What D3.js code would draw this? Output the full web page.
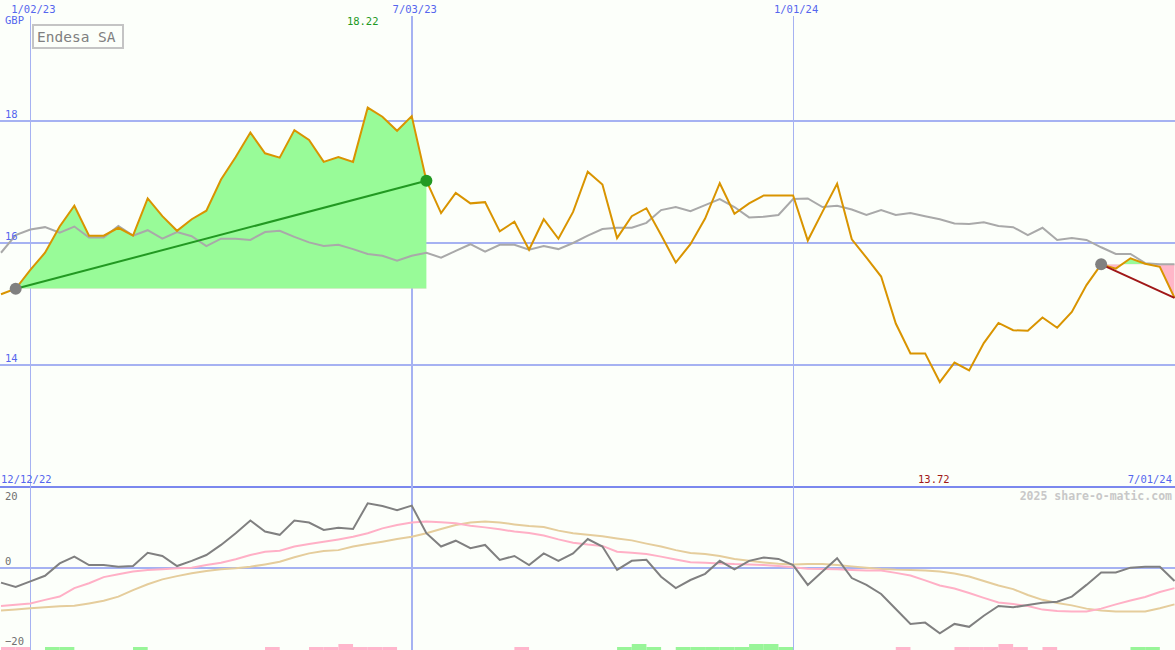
<!DOCTYPE html>
<html>
<head>
<meta charset="utf-8">
<script src="https://cdn.jsdelivr.net/npm/d3@7"></script>
<style>
  body { margin: 0; background: #fcfffa; }
  svg { display: block; }
  text { font-family: "DejaVu Sans Mono", monospace; }
</style>
</head>
<body>
<div id="chart"></div>
<script>
// weekly closes, Endesa SA (GBP), from 19 Dec 2022
var startDate = Date.UTC(2022, 11, 19);
var endDate = Date.UTC(2024, 6, 1);

var price = [15.16,15.25,15.56,15.84,16.27,16.61,16.12,16.12,16.25,16.12,
  16.73,16.44,16.20,16.39,16.53,17.04,17.41,17.81,17.47,17.40,
  17.85,17.69,17.33,17.41,17.33,18.22,18.07,17.84,18.08,17.02,
  16.49,16.82,16.65,16.67,16.19,16.35,15.89,16.39,16.07,16.51,
  17.17,16.96,16.08,16.44,16.57,16.13,15.68,15.98,16.40,16.98,
  16.48,16.65,16.78,16.78,16.78,16.04,16.51,16.97,16.06,15.76,
  15.45,14.68,14.19,14.19,13.72,14.04,13.91,14.36,14.69,14.57,
  14.56,14.78,14.61,14.87,15.31,15.65,15.58,15.75,15.66,15.61,
  15.10];

var movingAvg = [15.84,16.13,16.22,16.26,16.17,16.27,16.09,16.09,16.28,16.12,
  16.21,16.07,16.18,16.11,15.95,16.07,16.07,16.05,16.18,16.20,
  16.10,16.01,15.95,15.97,15.90,15.82,15.79,15.71,15.79,15.84,
  15.76,15.87,15.98,15.86,15.97,15.97,15.89,15.95,15.90,16.00,
  16.12,16.23,16.25,16.25,16.33,16.54,16.59,16.52,16.62,16.72,
  16.59,16.42,16.43,16.46,16.72,16.73,16.59,16.61,16.55,16.46,
  16.54,16.46,16.49,16.44,16.39,16.32,16.31,16.34,16.28,16.26,
  16.13,16.25,16.05,16.08,16.05,15.93,15.82,15.82,15.67,15.65,
  15.65];

// lower panel
var oscillator = [-4.5,-5.8,-4.1,-2.4,1.4,3.5,0.9,0.9,0.4,0.6,
  4.7,3.7,0.6,2.2,4.0,7.1,10.7,14.6,11.2,10.2,
  14.6,14.0,11.7,12.4,12.0,19.9,19.1,17.8,19.2,10.7,
  6.6,8.4,6.1,7.1,2.5,3.7,0.9,4.5,2.2,4.5,
  8.9,6.6,-0.6,2.2,2.5,-2.7,-6.2,-3.7,-1.8,2.2,
  -0.4,2.2,3.2,2.8,0.9,-5.2,-1.1,3.0,-3.1,-5.2,
  -8.0,-12.6,-17.2,-16.8,-20.1,-17.2,-18.1,-14.7,-11.7,-12.1,
  -11.4,-10.7,-10.4,-8.8,-5.2,-1.4,-1.4,0.1,0.4,0.4,
  -4.0];

var oscFast = [-11.7,-11.3,-10.9,-9.8,-8.8,-6.2,-4.7,-2.8,-1.9,-1.1,
  -0.6,-0.4,-0.1,0.1,0.9,1.6,2.7,4.0,5.0,5.3,
  6.6,7.4,8.1,8.8,9.6,10.7,12.2,13.2,14.0,14.3,
  14.1,13.8,13.0,12.5,11.9,11.2,10.8,10.0,8.8,7.8,
  7.2,6.8,5.0,4.7,4.3,3.5,2.6,1.8,1.6,1.4,
  1.2,1.1,0.9,0.6,0.2,-0.2,-0.3,-0.4,-0.6,-0.8,
  -0.8,-1.5,-2.3,-3.8,-5.4,-6.3,-7.7,-9.2,-10.6,-11.1,
  -11.7,-12.8,-13.2,-13.4,-13.4,-12.5,-11.2,-10.0,-8.9,-7.4,
  -6.2];

var oscSlow = [-13.1,-12.8,-12.4,-12.1,-11.8,-11.6,-10.9,-10.1,-8.8,-6.8,
  -5.0,-3.5,-2.5,-1.6,-0.9,-0.4,-0.1,0.4,1.1,1.9,
  3.3,4.5,5.2,5.5,6.6,7.4,8.1,8.9,9.6,10.7,
  12.0,13.2,14.0,14.3,14.0,13.4,12.9,12.6,11.5,10.7,
  10.2,9.8,9.1,8.5,7.5,6.6,5.5,4.6,4.3,3.7,
  2.8,2.2,1.7,1.3,1.1,1.2,1.2,0.9,0.5,0.1,
  -0.3,-0.5,-0.6,-0.8,-1.1,-1.7,-2.6,-4.0,-5.4,-6.5,
  -8.3,-9.8,-10.8,-11.5,-12.5,-13.1,-13.4,-13.4,-13.4,-12.4,
  -11.2];

// +1/+2 buy strength (green), -1/-2 sell strength (pink)
var signal = [-1,-1,0,1,1,0,0,0,0,1,
  0,0,0,0,0,0,0,0,-1,0,
  0,-1,-1,-2,-1,-1,-1,0,0,0,
  0,0,0,0,0,-1,0,0,0,0,
  0,0,1,2,1,0,1,1,1,1,
  1,2,2,1,0,0,0,0,0,0,
  0,-1,0,0,0,-1,-1,-1,-2,-1,
  0,-1,0,0,0,0,0,1,1,0,
  0];

var dateTicks = [Date.UTC(2023,0,2), Date.UTC(2023,6,3), Date.UTC(2024,0,1)];
var dateTickLabels = ["1/02/23", "7/03/23", "1/01/24"];
var priceTicks = [14, 16, 18];
var oscTicks = [20, 0, -20];
var swings = [[1, 29], [75, 80]];   // start/end index of highlighted moves

var W = 1175, H = 650;
var svg = d3.select("#chart").append("svg").attr("width", W).attr("height", H);
svg.append("rect").attr("width", W).attr("height", H).attr("fill", "#fcfffa");

var week = 7 * 864e5;
var dates = price.map(function(d, i) { return new Date(startDate + i * week); });

var x = d3.scaleUtc().domain([new Date(startDate), new Date(endDate)]).range([1, 1174.5]);
var y = d3.scaleLinear().domain([12, 20]).range([487, -1]);
var yo = d3.scaleLinear().domain([-20, 20]).range([633, 503]);
var yb = d3.scaleLinear().domain([0, 2]).range([650, 644]);

var blue = "#5566ee";
var grid = "#a6b2f2";

// signal bars along the bottom edge
svg.append("g").selectAll("rect")
  .data(signal.map(function(s, i) { return {s: s, i: i}; }).filter(function(d) { return d.s != 0; }))
  .enter().append("rect")
  .attr("x", function(d) { return x(dates[d.i]); })
  .attr("width", function(d) { return x(new Date(startDate + (d.i + 1) * week)) - x(dates[d.i]); })
  .attr("y", function(d) { return yb(Math.abs(d.s)); })
  .attr("height", function(d) { return 650 - yb(Math.abs(d.s)); })
  .attr("fill", function(d) { return d.s > 0 ? "#98f598" : "#ffb6cc"; });

// horizontal grid
svg.append("g").selectAll("line").data(priceTicks).enter().append("line")
  .attr("x1", 0).attr("x2", W)
  .attr("y1", function(d) { return y(d); }).attr("y2", function(d) { return y(d); })
  .attr("stroke", grid).attr("stroke-width", 2);
svg.append("line").attr("x1", 0).attr("x2", W).attr("y1", yo(0)).attr("y2", yo(0))
  .attr("stroke", grid).attr("stroke-width", 2);
svg.append("line").attr("x1", 0).attr("x2", W).attr("y1", 487).attr("y2", 487)
  .attr("stroke", "#7b88ee").attr("stroke-width", 2);

// vertical date lines
var vx = function(d, i) { return i == 1 ? Math.round(x(d)) : Math.round(x(d)) + 0.5; };
svg.append("g").selectAll("line").data(dateTicks).enter().append("line")
  .attr("x1", vx).attr("x2", vx)
  .attr("y1", 16).attr("y2", H)
  .attr("stroke", grid)
  .attr("stroke-width", function(d, i) { return i == 1 ? 2 : 1; });

// swing areas: green above the starting close, pink below
var defs = svg.append("defs");
swings.forEach(function(s, k) {
  var base = price[s[0]];
  var seg = d3.range(s[0], s[1] + 1);
  defs.append("clipPath").attr("id", "up" + k).append("rect")
    .attr("x", 0).attr("y", 0).attr("width", W).attr("height", y(base));
  defs.append("clipPath").attr("id", "dn" + k).append("rect")
    .attr("x", 0).attr("y", y(base)).attr("width", W).attr("height", 487 - y(base));
  var area = d3.area()
    .x(function(i) { return x(dates[i]); })
    .y0(y(base))
    .y1(function(i) { return y(price[i]); });
  svg.append("path").datum(seg).attr("d", area)
    .attr("fill", "#98fb98").attr("clip-path", "url(#up" + k + ")");
  svg.append("path").datum(seg).attr("d", area)
    .attr("fill", "#ffb6c8").attr("clip-path", "url(#dn" + k + ")");
});

var line = function(arr, yy) {
  return d3.line()
    .x(function(d, i) { return x(dates[i]); })
    .y(function(d) { return yy(d); })(arr);
};

svg.append("path").attr("d", line(movingAvg, y))
  .attr("fill", "none").attr("stroke", "#a9a9a9").attr("stroke-width", 2);
svg.append("path").attr("d", line(price, y))
  .attr("fill", "none").attr("stroke", "#d99400").attr("stroke-width", 2);

// lower panel lines
svg.append("path").attr("d", line(oscSlow, yo))
  .attr("fill", "none").attr("stroke", "#e5cd9c").attr("stroke-width", 2);
svg.append("path").attr("d", line(oscFast, yo))
  .attr("fill", "none").attr("stroke", "#ffb0c6").attr("stroke-width", 2);
svg.append("path").attr("d", line(oscillator, yo))
  .attr("fill", "none").attr("stroke", "#808080").attr("stroke-width", 2);

// trend lines and end dots
swings.forEach(function(s) {
  var a = s[0], b = s[1];
  var up = price[b] >= price[a];
  svg.append("line")
    .attr("x1", x(dates[a])).attr("y1", y(price[a]))
    .attr("x2", x(dates[b])).attr("y2", y(price[b]))
    .attr("stroke", up ? "#229922" : "#a01818").attr("stroke-width", 2);
  svg.append("circle").attr("cx", x(dates[a])).attr("cy", y(price[a])).attr("r", 6)
    .attr("fill", "#808080");
  if (b < price.length - 1) {
    svg.append("circle").attr("cx", x(dates[b])).attr("cy", y(price[b])).attr("r", 6)
      .attr("fill", up ? "#229922" : "#a01818");
  }
});

// axis text
svg.append("g").selectAll("text").data(dateTicks).enter().append("text")
  .attr("x", function(d) { return x(d) + 3; }).attr("y", 13)
  .attr("text-anchor", "middle").attr("font-size", 10.5).attr("fill", blue)
  .text(function(d, i) { return dateTickLabels[i]; });
svg.append("text").attr("x", 1).attr("y", 483).attr("font-size", 10.5).attr("fill", blue)
  .text("12/12/22");
svg.append("text").attr("x", 1172).attr("y", 483).attr("text-anchor", "end")
  .attr("font-size", 10.5).attr("fill", blue).text("7/01/24");
svg.append("text").attr("x", 5).attr("y", 24).attr("font-size", 10.5).attr("fill", blue).text("GBP");
svg.append("g").selectAll("text").data(priceTicks).enter().append("text")
  .attr("x", 5).attr("y", function(d) { return y(d) - 3; })
  .attr("font-size", 10.5).attr("fill", blue).text(function(d) { return d; });
svg.append("g").selectAll("text").data(oscTicks).enter().append("text")
  .attr("x", 5).attr("y", function(d) { return d < 0 ? yo(d) + 12 : yo(d) - 3; })
  .attr("font-size", 10.5).attr("fill", "#707070")
  .text(function(d) { return d < 0 ? "\u2212" + Math.abs(d) : d; });

// high / low labels
var hi = d3.maxIndex(price), lo = d3.minIndex(price);
svg.append("text").attr("x", x(dates[hi]) - 5).attr("y", 25).attr("text-anchor", "middle")
  .attr("font-size", 10.5).attr("fill", "#229922").text(price[hi].toFixed(2));
svg.append("text").attr("x", x(dates[lo]) - 6).attr("y", 483).attr("text-anchor", "middle")
  .attr("font-size", 10.5).attr("fill", "#a01818").text(price[lo].toFixed(2));

// title box
svg.append("rect").attr("x", 33).attr("y", 25).attr("width", 90).attr("height", 23)
  .attr("fill", "#fcfffa").attr("stroke", "#c4c4c4").attr("stroke-width", 2);
svg.append("text").attr("x", 37).attr("y", 42).attr("font-size", 14.5).attr("fill", "#808080")
  .text("Endesa SA");

svg.append("text").attr("x", 1172).attr("y", 500).attr("text-anchor", "end")
  .attr("font-size", 11.5).attr("font-weight", "bold").attr("fill", "#c8c8c8")
  .text("2025 share-o-matic.com");
</script>
</body>
</html>
